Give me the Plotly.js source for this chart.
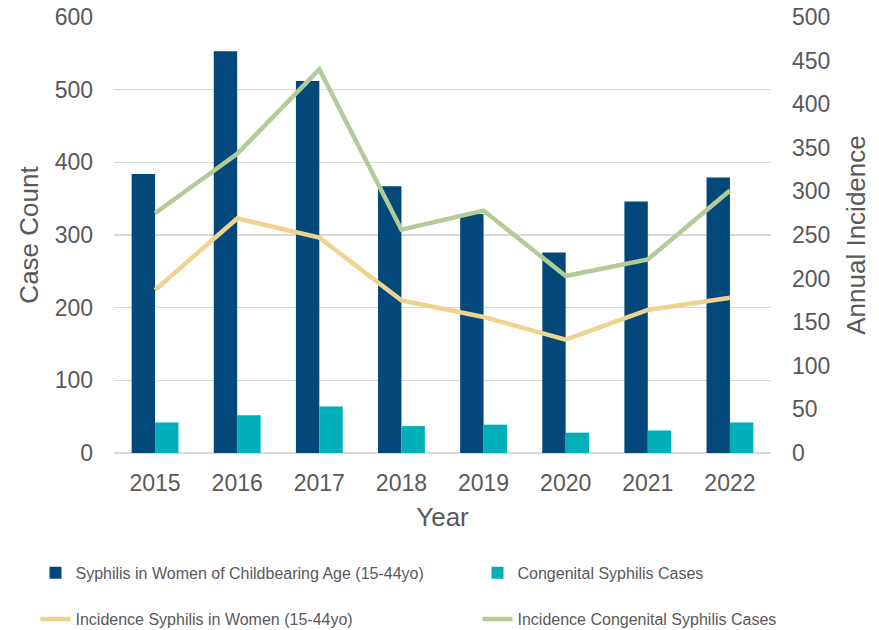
<!DOCTYPE html>
<html>
<head>
<meta charset="utf-8">
<script src="https://cdn.plot.ly/plotly-3.0.1.min.js"></script>
<style>html,body{margin:0;padding:0;background:#fff;}#chart{width:879px;height:630px;}</style>
</head>
<body>
<div id="chart"></div>
<script>
const years = ['2015','2016','2017','2018','2019','2020','2021','2022'];
const womenCases = [384, 553, 512, 367, 329, 276, 346, 379];
const congenitalCases = [42, 52, 64, 37, 39, 28, 31, 42];
const incidenceWomen = [187, 269, 247, 175, 156, 130, 164, 178];
const incidenceCongenital = [275, 343, 440, 256, 278, 203, 222, 301];
const leftTicks = [0, 100, 200, 300, 400, 500, 600];
const rightTicks = [0, 50, 100, 150, 200, 250, 300, 350, 400, 450, 500];

const FONT = 'Liberation Sans, Arial, sans-serif';
const TXT = '#595959';

const traces = [
  {type:'bar', name:'Syphilis in Women of Childbearing Age (15-44yo)', x:years, y:womenCases,
   marker:{color:'#03487A'}, legend:'legend', legendwidth:397},
  {type:'bar', name:'Congenital Syphilis Cases', x:years, y:congenitalCases,
   marker:{color:'#00AFB7'}, legend:'legend', legendwidth:260},
  {type:'scatter', mode:'lines', name:'Incidence Syphilis in Women (15-44yo)', x:years, y:incidenceWomen,
   yaxis:'y2', line:{color:'#EFD38E', width:4.5}, legend:'legend2', legendwidth:397},
  {type:'scatter', mode:'lines', name:'Incidence Congenital Syphilis Cases', x:years, y:incidenceCongenital,
   yaxis:'y2', line:{color:'#B3CB96', width:4.5}, legend:'legend2', legendwidth:260}
];

const legendBase = {orientation:'h', x:-0.1195, xanchor:'left', yanchor:'middle',
  font:{size:16, color:TXT}, bgcolor:'rgba(0,0,0,0)'};

const layout = {
  width:879, height:630,
  margin:{l:114, r:108, t:17, b:177, autoexpand:false},
  paper_bgcolor:'#fff', plot_bgcolor:'#fff',
  font:{family:FONT, color:TXT},
  barmode:'group', bargap:0.43, bargroupgap:0,
  showlegend:true,
  xaxis:{
    type:'category', tickfont:{size:23, color:TXT}, ticks:'', ticklabelstandoff:14,
    showgrid:false, showline:false, zeroline:false,
    title:{text:'Year', font:{size:26, color:TXT}, standoff:12}
  },
  yaxis:{
    range:[0,600], tickvals:leftTicks, tickfont:{size:23, color:TXT}, ticks:'',
    ticklabelstandoff:20,
    gridcolor:'#D9D9D9', gridwidth:1.3, zeroline:true, zerolinecolor:'#D9D9D9', zerolinewidth:1.3,
    showline:false,
    title:{text:'Case Count', font:{size:26, color:TXT}, standoff:8}
  },
  yaxis2:{
    overlaying:'y', side:'right', range:[0,500], tickvals:rightTicks, tickfont:{size:23, color:TXT},
    ticks:'', ticklabelstandoff:20, showgrid:false, zeroline:false, showline:false,
    title:{text:'Annual Incidence', font:{size:26, color:TXT}, standoff:17}
  },
  legend:Object.assign({}, legendBase, {y:-0.275}),
  legend2:Object.assign({}, legendBase, {y:-0.381})
};

Plotly.newPlot('chart', traces, layout, {displayModeBar:false, staticPlot:true});
</script>
</body>
</html>
